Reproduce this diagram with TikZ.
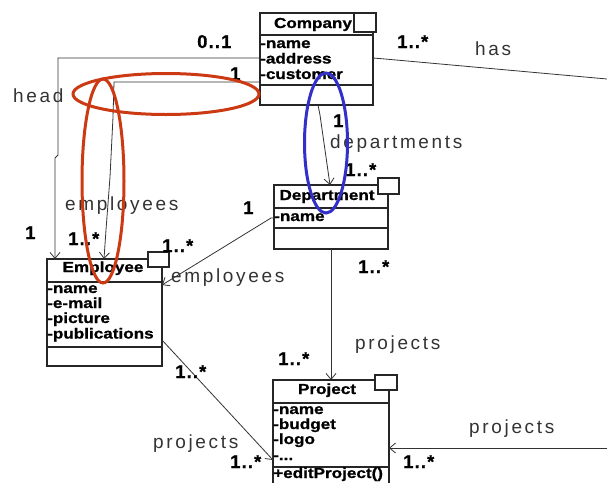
\documentclass[tikz,border=0pt]{standalone}
\usepackage{fontspec}
\setmainfont{Liberation Sans}
\newfontfamily\lblfont[LetterSpace=14]{Liberation Sans}
\newfontfamily\mulfont[LetterSpace=6,FakeBold=0.6]{Liberation Sans}
\newfontfamily\clsfont[FakeStretch=1.18,FakeBold=1.0]{Liberation Sans}
\usetikzlibrary{arrows.meta,calc}

\definecolor{loopred}{RGB}{204,58,20}
\definecolor{loopblue}{RGB}{50,48,200}

\tikzset{
  umlbox/.style={draw=black!85, line width=1.3pt, fill=white, inner sep=0pt, outer sep=0pt, anchor=north west},
  tagbox/.style={draw=black!85, line width=1.1pt, fill=white, inner sep=0pt, outer sep=0pt, anchor=north west},
  sep/.style={draw=black!85, line width=1.1pt},
  clsname/.style={inner sep=0pt, anchor=base, font=\clsfont\bfseries\fontsize{14.5}{16}\selectfont},
  clsattr/.style={inner sep=0pt, anchor=base west, font=\clsfont\bfseries\fontsize{14.5}{16}\selectfont},
  role/.style={inner sep=0pt, anchor=base west, text=black!80, font=\lblfont\fontsize{19}{22}\selectfont},
  mult/.style={inner sep=0pt, anchor=base west, font=\mulfont\bfseries\fontsize{18.5}{20}\selectfont},
  assoc/.style={draw=black!80, line width=0.8pt},
  nav/.style={assoc, -{Straight Barb[length=6pt,width=10pt]}},
  redloop/.style={draw=loopred, line width=3pt},
  blueloop/.style={draw=loopblue, line width=3pt},
}

\begin{document}
\begin{tikzpicture}[x=1pt,y=-1pt]
\useasboundingbox (0,0) rectangle (607,482);
\fill[white] (0,0) rectangle (607,482);
\clip (0,0) rectangle (607,482);

% ---------- Company ----------
\node[umlbox, minimum width=113pt, minimum height=92pt] (company) at (260,13) {};
\draw[sep] (260,35) -- (373,35);
\draw[sep] (260,85) -- (373,85);
\node[tagbox, minimum width=22pt, minimum height=19pt] (companytag) at (354,13) {};
\node[clsname] (companyname) at (313,28) {Company};
\node[clsattr] (companya1) at (260,48) {-name};
\node[clsattr] (companya2) at (260,63.5) {-address};
\node[clsattr] (companya3) at (260,79) {-customer};

% ---------- Department ----------
\node[umlbox, minimum width=114pt, minimum height=64pt] (dept) at (274,185) {};
\draw[sep] (274,208) -- (388,208);
\draw[sep] (274,228) -- (388,228);
\node[tagbox, minimum width=21pt, minimum height=16pt] (depttag) at (378,178) {};
\node[clsname] (deptname) at (327,200) {Department};
\node[clsattr] (depta1) at (274,221) {-name};

% ---------- Employee ----------
\node[umlbox, minimum width=115pt, minimum height=107pt] (emp) at (47,259) {};
\draw[sep] (47,282) -- (162,282);
\draw[sep] (47,347) -- (162,347);
\node[tagbox, minimum width=21pt, minimum height=15pt] (emptag) at (148,252) {};
\node[clsname] (empname) at (103,272) {Employee};
\node[clsattr] (empa1) at (47,293) {-name};
\node[clsattr] (empa2) at (47,308) {-e-mail};
\node[clsattr] (empa3) at (47,323) {-picture};
\node[clsattr] (empa4) at (47,338.5) {-publications};

% ---------- Project ----------
\node[umlbox, minimum width=116pt, minimum height=112pt] (proj) at (273,380) {};
\draw[sep] (273,403) -- (389,403);
\draw[sep] (273,467) -- (389,467);
\node[tagbox, minimum width=22pt, minimum height=15pt] (projtag) at (375,375) {};
\node[clsname] (projname) at (327,394) {Project};
\node[clsattr] (proja1) at (273,414) {-name};
\node[clsattr] (proja2) at (273,429) {-budget};
\node[clsattr] (proja3) at (273,444) {-logo};
\node[clsattr] (proja4) at (273,460) {-...};
\node[clsattr] (projop1) at (273,478) {+editProject()};

% ---------- attachment points ----------
\coordinate (headA) at (260,58);
\coordinate (headB) at (55,259);
\coordinate (staffA) at (260,82);
\coordinate (staffB) at (104,259);
\coordinate (deptsA) at (318,105);
\coordinate (deptsB) at (330,185);
\coordinate (workA) at (274,218);
\coordinate (workB) at (162,285);
\coordinate (dprojA) at (331,249);
\coordinate (dprojB) at (331,380);
\coordinate (eprojA) at (162,340);
\coordinate (eprojB) at (273,460);
\coordinate (rprojA) at (607,448);
\coordinate (rprojB) at (389,448);
\coordinate (hasA) at (373,58);
\coordinate (hasB) at (607,79);

% ---------- associations ----------
\draw[nav] (headA) -- (58,58) -- (58,155) -- (55,158) -- (headB);
\draw[nav] (staffA) -- (114,82) -- (113,117) -- (110,177) -- (106,230) -- (staffB);
\draw[nav] (deptsA) -- (320,115) -- (deptsB);
\draw[nav] (workA) -- (271,218) -- (workB);
\draw[nav] (dprojA) -- (dprojB);
\draw[nav] (eprojA) -- (eprojB);
\draw[nav] (rprojA) -- (rprojB);
\draw[assoc] (hasA) -- (385,59) -- (hasB);

% ---------- role names ----------
\node[role] (lhead) at (13,102) {head};
\node[role] (lhas) at (475,55) {has};
\node[role] (ldepts) at (330,148) {departments};
\node[role] (lstaff1) at (65,210) {employees};
\node[role] (lstaff2) at (171,282) {employees};
\node[role] (lproj1) at (355,349) {projects};
\node[role] (lproj2) at (153,448) {projects};
\node[role] (lproj3) at (469,433) {projects};

% ---------- multiplicities ----------
\node[mult] (m01) at (197,48) {0..1};
\node[mult] (m1a) at (230,80) {1};
\node[mult] (mhas) at (397,48) {1..*};
\node[mult] (m1b) at (333,127) {1};
\node[mult] (mdept) at (345,176) {1..*};
\node[mult] (m1c) at (25,239) {1};
\node[mult] (memp1) at (68,245) {1..*};
\node[mult] (m1d) at (243,214) {1};
\node[mult] (memp2) at (162,252) {1..*};
\node[mult] (mdp1) at (358,273) {1..*};
\node[mult] (mdp2) at (278,365) {1..*};
\node[mult] (mep1) at (175,378) {1..*};
\node[mult] (mep2) at (230,468) {1..*};
\node[mult] (mrp) at (403,468) {1..*};

% ---------- highlight loops ----------
\draw[redloop] (166,94) ellipse [x radius=93pt, y radius=20.5pt];
\draw[redloop] (103,181) ellipse [x radius=21pt, y radius=102pt];
\draw[blueloop] (326,143) ellipse [x radius=21.5pt, y radius=70pt];
\end{tikzpicture}
\end{document}
